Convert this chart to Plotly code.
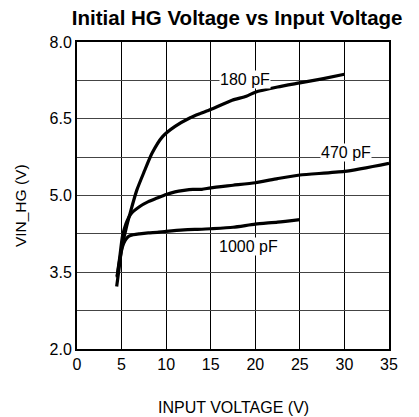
import plotly.graph_objects as go

# Data
vin_180 = [4.45, 4.7, 5.0, 5.5, 6.0, 6.7, 7.5, 8.4, 9.6, 11.0, 12.7, 13.8, 15.0, 17.4, 19.0, 20.0, 22.5, 25.0, 27.5, 30.0]
vhg_180 = [3.22, 3.55, 3.95, 4.35, 4.68, 5.1, 5.45, 5.82, 6.15, 6.35, 6.52, 6.6, 6.68, 6.86, 6.94, 7.02, 7.12, 7.2, 7.28, 7.37]

vin_470 = [4.5, 4.8, 5.1, 5.5, 6.0, 7.0, 8.0, 9.0, 10.0, 11.0, 12.0, 13.0, 14.0, 15.0, 17.5, 20.0, 22.5, 25.0, 30.0, 35.0]
vhg_470 = [3.42, 3.8, 4.2, 4.45, 4.63, 4.78, 4.88, 4.95, 5.02, 5.07, 5.1, 5.12, 5.12, 5.15, 5.2, 5.25, 5.33, 5.4, 5.47, 5.63]

vin_1000 = [4.5, 4.8, 5.1, 5.4, 5.7, 6.0, 7.0, 8.0, 9.0, 10.0, 12.0, 14.0, 15.0, 17.5, 20.0, 22.5, 25.0]
vhg_1000 = [3.4, 3.75, 4.0, 4.12, 4.19, 4.22, 4.25, 4.27, 4.28, 4.3, 4.33, 4.34, 4.35, 4.38, 4.44, 4.48, 4.53]

series_names = ["180 pF", "470 pF", "1000 pF"]
label_x = [18.9, 30.2, 19.2]
label_y = [7.27, 5.85, 4.0]

x_ticks = [0, 5, 10, 15, 20, 25, 30, 35]
y_ticks = [2.0, 2.75, 3.5, 4.25, 5.0, 5.75, 6.5, 7.25, 8.0]
y_ticktext = ["2.0", "", "3.5", "", "5.0", "", "6.5", "", "8.0"]

title_text = "Initial HG Voltage vs Input Voltage"
x_title = "INPUT VOLTAGE (V)"
y_title = "VIN_HG (V)"

FONT = "Liberation Sans, Arial, sans-serif"

fig = go.Figure()
for xs, ys, name in [(vin_180, vhg_180, series_names[0]),
                     (vin_470, vhg_470, series_names[1]),
                     (vin_1000, vhg_1000, series_names[2])]:
    fig.add_trace(go.Scatter(x=xs, y=ys, mode="lines", name=name,
                             line=dict(color="black", width=3.2, shape="spline", smoothing=0.6),
                             showlegend=False))

for name, lx, ly in zip(series_names, label_x, label_y):
    fig.add_annotation(x=lx, y=ly, text=name, showarrow=False,
                       bgcolor="white", borderpad=0,
                       font=dict(family=FONT, size=16, color="black"))

# axis titles
fig.add_annotation(xref="paper", yref="paper", x=0.503, y=-0.189, text=x_title,
                   showarrow=False, xanchor="center", yanchor="middle",
                   font=dict(family=FONT, size=16, color="black"))
fig.add_annotation(xref="paper", yref="paper", x=-0.179, y=0.466, text=y_title,
                   textangle=-90, showarrow=False, xanchor="center", yanchor="middle",
                   font=dict(family=FONT, size=15.5, color="black"))

fig.update_layout(
    width=419, height=417,
    margin=dict(l=77, r=30, t=42, b=68),
    paper_bgcolor="white", plot_bgcolor="white",
    title=dict(text="<b>" + title_text + "</b>",
               x=0.566, xanchor="center", y=0.958, yanchor="middle",
               font=dict(family=FONT, size=20.5, color="black")),
    font=dict(family=FONT, size=16, color="black"),
)
fig.update_xaxes(range=[0, 35], tickvals=x_ticks, ticks="", showgrid=True,
                 gridcolor="black", gridwidth=1.2, zeroline=False,
                 showline=True, linecolor="black", linewidth=2, mirror=True,
                 automargin=False,
                 tickfont=dict(family=FONT, size=16, color="black"))
fig.update_yaxes(range=[2, 8], tickvals=y_ticks, ticktext=y_ticktext, ticks="",
                 showgrid=True, gridcolor="#444", gridwidth=1.3, zeroline=False,
                 showline=True, linecolor="black", linewidth=2, mirror=True,
                 automargin=False,
                 tickfont=dict(family=FONT, size=16, color="black"))

fig.write_html("out.html",
               config={"displayModeBar": False},
               post_script="document.body.style.margin='0';document.body.style.overflow='hidden';")
